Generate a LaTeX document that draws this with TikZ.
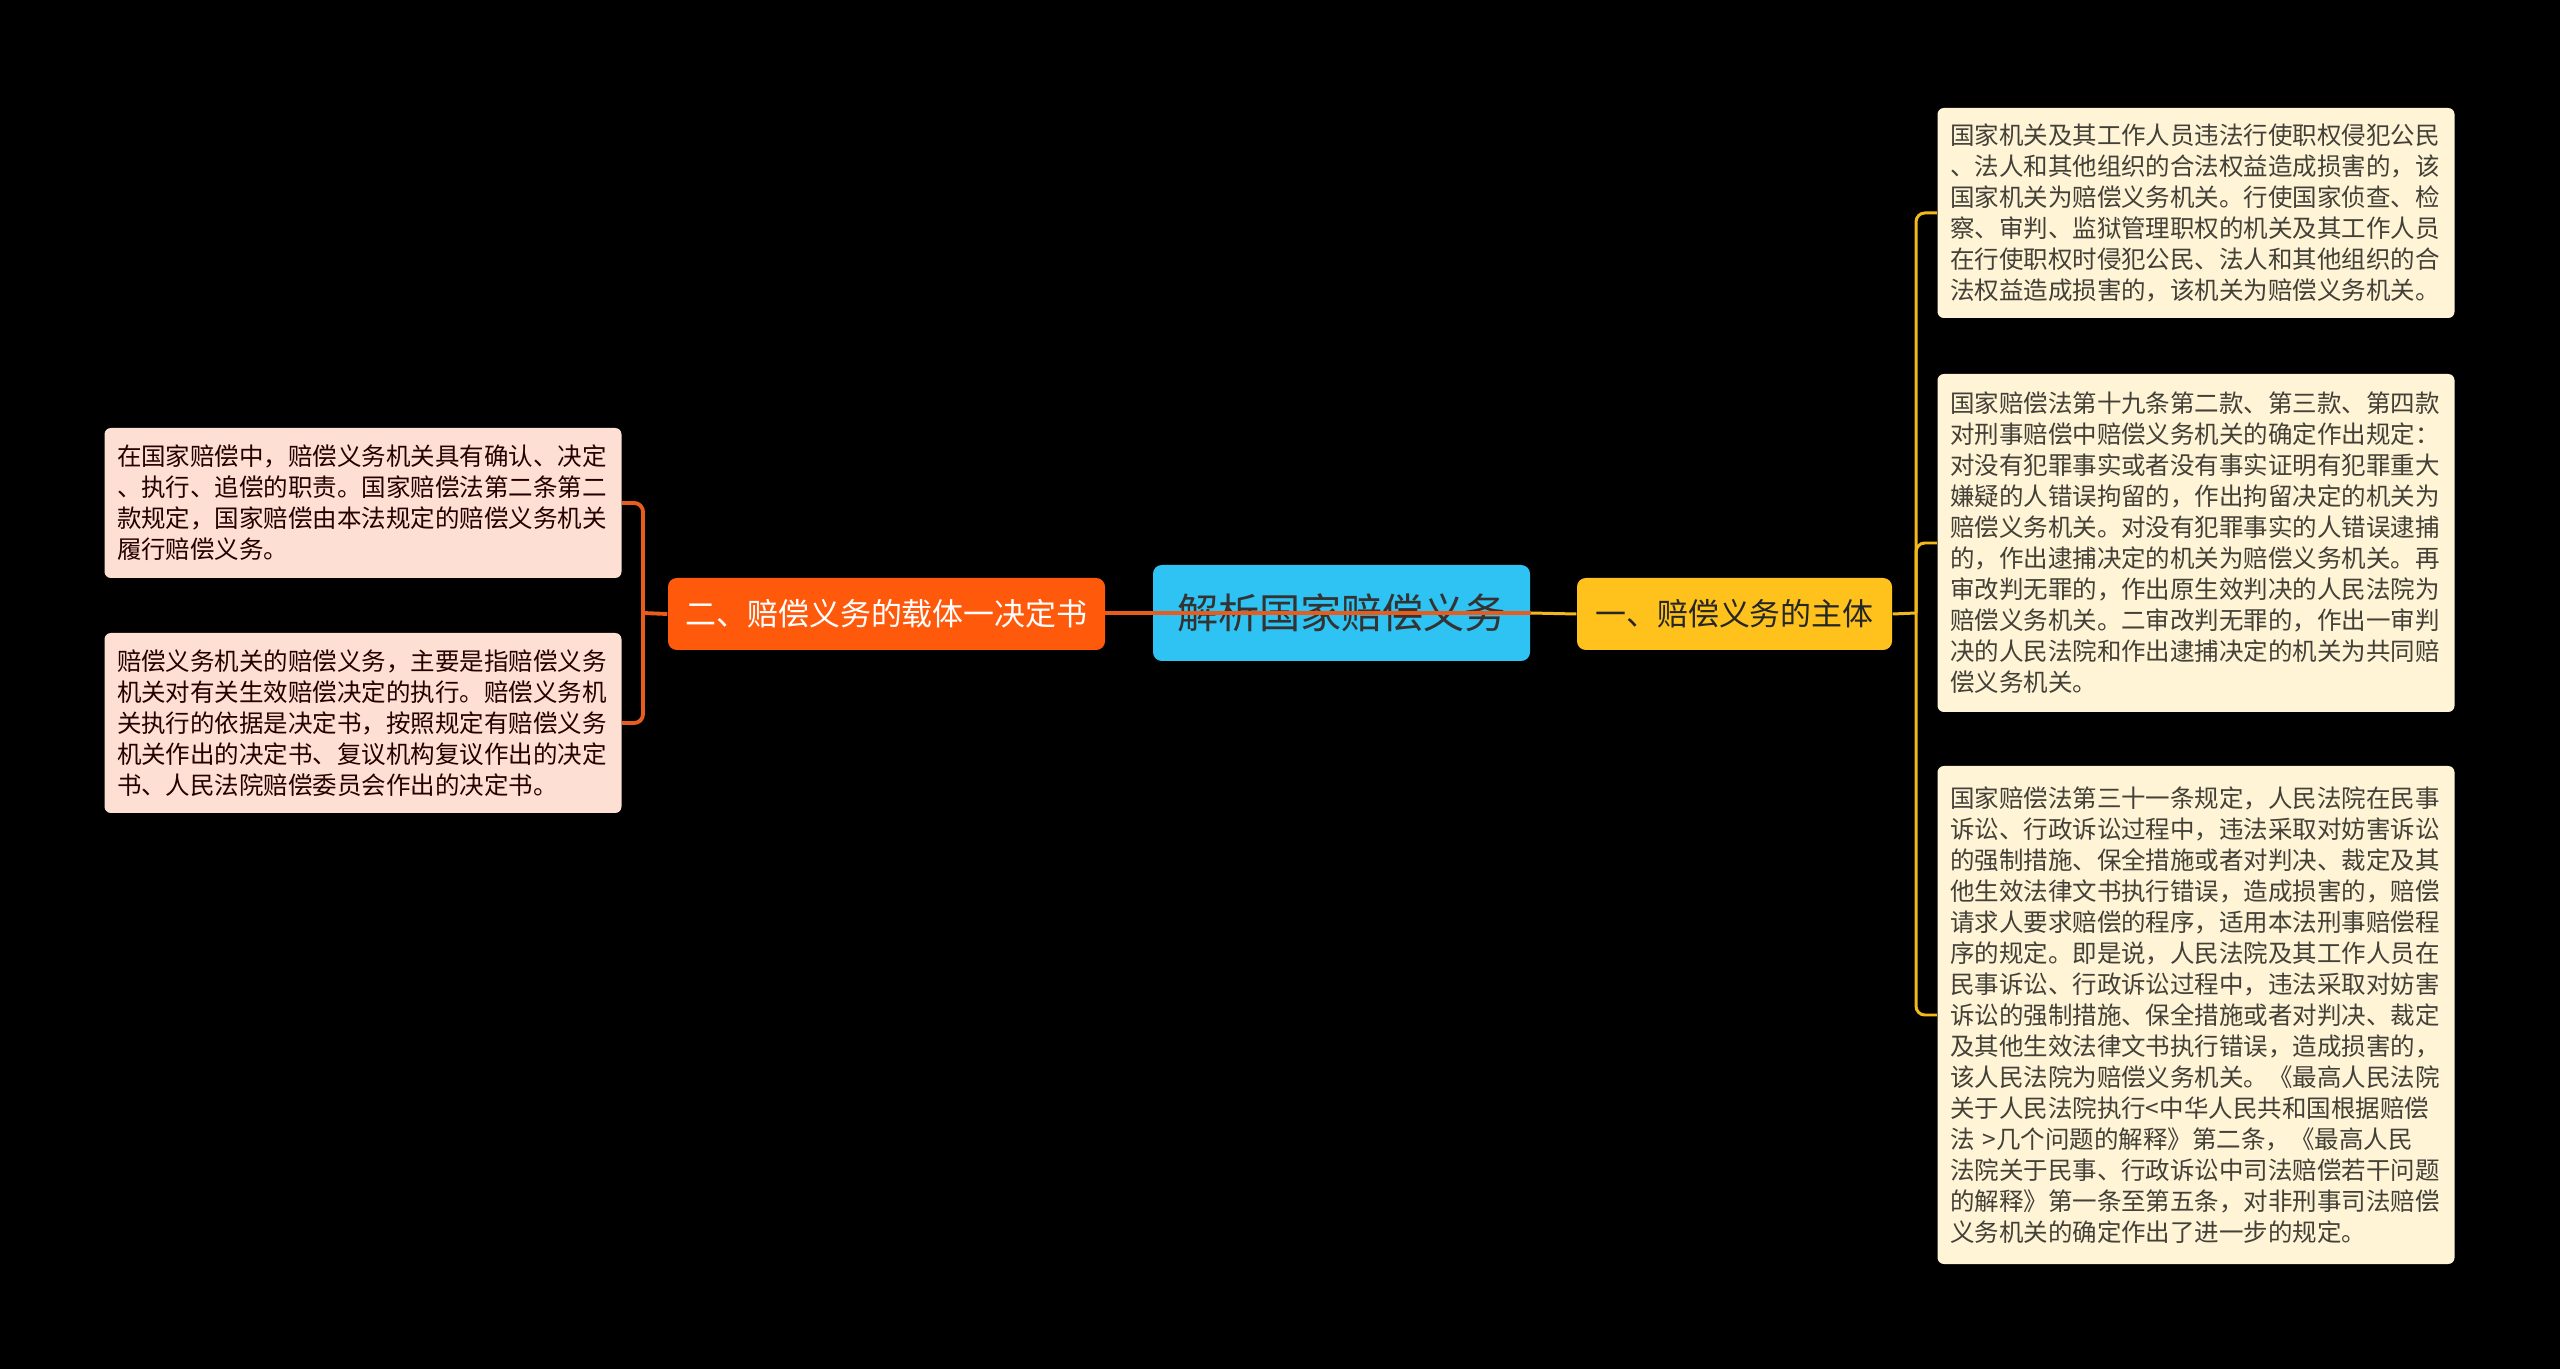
\documentclass[tikz,border=0pt]{standalone}
\usepackage{fontspec}
\newfontfamily\cjk{Noto Sans CJK SC}
\usepackage{xcolor}
\usepackage{tikz}
\usetikzlibrary{positioning, calc}

\definecolor{hubcyan}{HTML}{2EC3F2}
\definecolor{twoorange}{HTML}{FF5A0C}
\definecolor{oneyellow}{HTML}{FFC21C}
\definecolor{peach}{HTML}{FDE0D3}
\definecolor{cream}{HTML}{FFF4D6}
\definecolor{olinecol}{HTML}{E85C1E}
\definecolor{ylinecol}{HTML}{F2B91C}

\begin{document}
\begin{tikzpicture}[
  hub/.style={rectangle, rounded corners=2.5pt, fill=hubcyan, minimum width=3.77cm, minimum height=0.96cm,
    inner sep=0pt, text=black!80, font=\cjk\fontsize{11.7pt}{14pt}\selectfont},
  twobox/.style={rectangle, rounded corners=2.5pt, fill=twoorange, minimum width=4.37cm, minimum height=0.72cm,
    inner sep=0pt, text=white, font=\cjk\fontsize{8.8pt}{10pt}\selectfont},
  onebox/.style={rectangle, rounded corners=2.5pt, fill=oneyellow, minimum width=3.15cm, minimum height=0.72cm,
    inner sep=0pt, text=black!85, font=\cjk\fontsize{8.8pt}{10pt}\selectfont},
  leaf/.style={rectangle, rounded corners=1.8pt, minimum width=5.17cm, inner sep=0pt,
    text width=4.92cm, align=left, font=\cjk\fontsize{6.97pt}{8.82pt}\selectfont},
  lleaf/.style={leaf, fill=peach, text=black!85!red},
  rleaf/.style={leaf, fill=cream, text=black!85!yellow},
  olink/.style={draw=olinecol, line width=1.1pt, rounded corners=2.5pt},
  ylink/.style={draw=ylinecol, line width=0.85pt, rounded corners=2.5pt}
]
  % 背景
  \fill[black] (0,0) rectangle (25.6,-13.69);

  % 中心主题
  \node[hub] (hub) at (13.415,-6.13) {解析国家赔偿义务};

  % 一级分支
  \node[onebox] (one) at (17.345,-6.14) {一、赔偿义务的主体};
  \draw[ylink] (hub.east) -- (one.west);
  \draw[olink, line width=1.4pt] (hub.east) -- (8.87,-6.13);
  \node[twobox] (two) at (8.865,-6.14) {二、赔偿义务的载体一决定书};

  % 右侧叶子
  \node[rleaf, minimum height=2.10cm] (r1) at (21.96,-2.13) {国家机关及其工作人员违法行使职权侵犯公民\\
、法人和其他组织的合法权益造成损害的，该\\
国家机关为赔偿义务机关。行使国家侦查、检\\
察、审判、监狱管理职权的机关及其工作人员\\
在行使职权时侵犯公民、法人和其他组织的合\\
法权益造成损害的，该机关为赔偿义务机关。};
  \node[rleaf, minimum height=3.38cm] (r2) at (21.96,-5.43) {国家赔偿法第十九条第二款、第三款、第四款\\
对刑事赔偿中赔偿义务机关的确定作出规定：\\
对没有犯罪事实或者没有事实证明有犯罪重大\\
嫌疑的人错误拘留的，作出拘留决定的机关为\\
赔偿义务机关。对没有犯罪事实的人错误逮捕\\
的，作出逮捕决定的机关为赔偿义务机关。再\\
审改判无罪的，作出原生效判决的人民法院为\\
赔偿义务机关。二审改判无罪的，作出一审判\\
决的人民法院和作出逮捕决定的机关为共同赔\\
偿义务机关。};
  \node[rleaf, minimum height=4.98cm] (r3) at (21.96,-10.15) {国家赔偿法第三十一条规定，人民法院在民事\\
诉讼、行政诉讼过程中，违法采取对妨害诉讼\\
的强制措施、保全措施或者对判决、裁定及其\\
他生效法律文书执行错误，造成损害的，赔偿\\
请求人要求赔偿的程序，适用本法刑事赔偿程\\
序的规定。即是说，人民法院及其工作人员在\\
民事诉讼、行政诉讼过程中，违法采取对妨害\\
诉讼的强制措施、保全措施或者对判决、裁定\\
及其他生效法律文书执行错误，造成损害的，\\
该人民法院为赔偿义务机关。《最高人民法院\\
关于人民法院执行<中华人民共和国根据赔偿\\
法 >几个问题的解释》第二条，《最高人民\\
法院关于民事、行政诉讼中司法赔偿若干问题\\
的解释》第一条至第五条，对非刑事司法赔偿\\
义务机关的确定作出了进一步的规定。};

  % 左侧叶子
  \node[lleaf, minimum height=1.50cm] (l1) at (3.63,-5.03) {在国家赔偿中，赔偿义务机关具有确认、决定\\
、执行、追偿的职责。国家赔偿法第二条第二\\
款规定，国家赔偿由本法规定的赔偿义务机关\\
履行赔偿义务。};
  \node[lleaf, minimum height=1.80cm] (l2) at (3.63,-7.23) {赔偿义务机关的赔偿义务，主要是指赔偿义务\\
机关对有关生效赔偿决定的执行。赔偿义务机\\
关执行的依据是决定书，按照规定有赔偿义务\\
机关作出的决定书、复议机构复议作出的决定\\
书、人民法院赔偿委员会作出的决定书。};

  % 分支连线
  \coordinate (rspine) at (19.16,-6.13);
  \coordinate (lspine) at (6.43,-6.13);
  \draw[ylink] (one.east) -- (rspine);
  \draw[ylink] (rspine) |- (r1.west);
  \draw[ylink] (rspine) |- (r2.west);
  \draw[ylink] (rspine) |- (r3.west);
  \draw[olink] (two.west) -- (lspine);
  \draw[olink] (lspine) |- (l1.east);
  \draw[olink] (lspine) |- (l2.east);
\end{tikzpicture}
\end{document}
